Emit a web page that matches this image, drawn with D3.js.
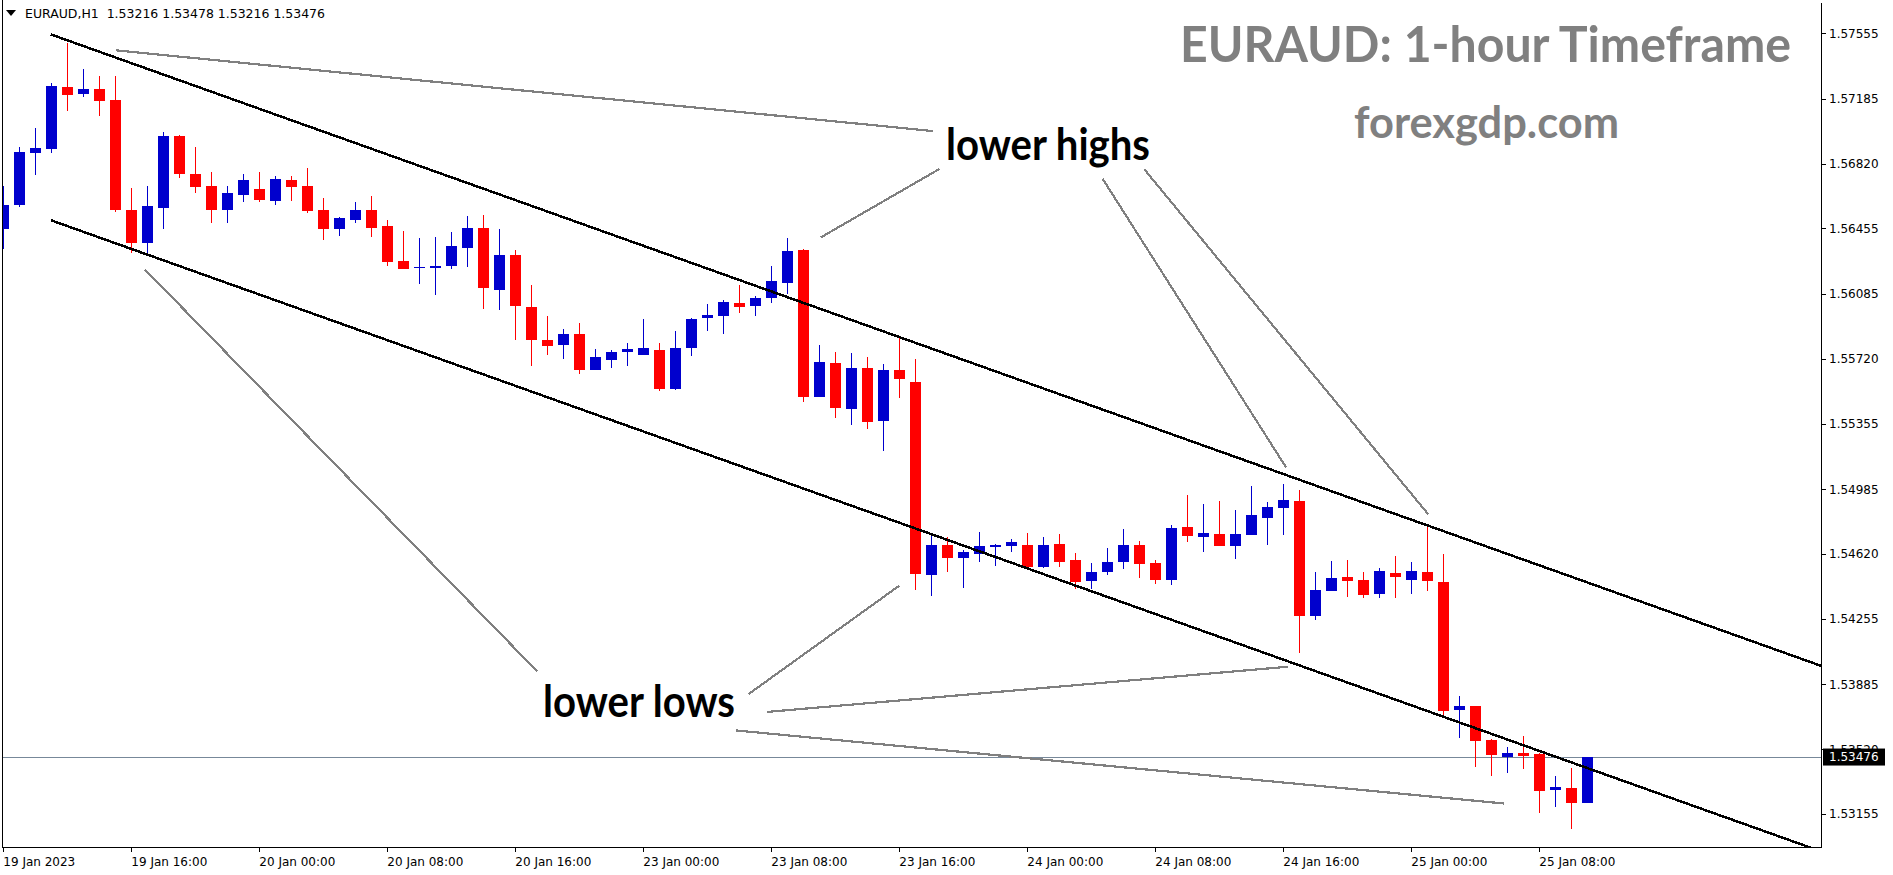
<!DOCTYPE html>
<html><head><meta charset="utf-8">
<script src="https://cdn.jsdelivr.net/npm/d3@7"></script>
<style>html,body{margin:0;padding:0;background:#fff;overflow:hidden}</style>
</head><body>
<svg id="chart" width="1893" height="875"></svg>
<script>
// ---------- DATA ----------
const opens = [1.56450,1.56589,1.56882,1.56905,1.57252,1.57215,1.57241,1.57179,1.56559,1.56375,
1.56572,1.56976,1.56762,1.56694,1.56561,1.56645,1.56678,1.56612,1.56728,1.56694,
1.56559,1.56454,1.56504,1.56559,1.56469,1.56272,1.56232,1.56232,1.56245,1.56347,
1.56458,1.56110,1.56306,1.56012,1.55826,1.55800,1.55860,1.55659,1.55715,1.55761,
1.55744,1.55770,1.55552,1.55783,1.55952,1.55963,1.56035,1.56020,1.56065,1.56149,
1.56334,1.55507,1.55697,1.55439,1.55669,1.55372,1.55657,1.55590,1.54504,1.54671,
1.54600,1.54622,1.54662,1.54667,1.54671,1.54549,1.54677,1.54587,1.54470,1.54521,
1.54577,1.54671,1.54570,1.54476,1.54773,1.54718,1.54733,1.54667,1.54729,1.54825,
1.54881,1.54919,1.54273,1.54414,1.54491,1.54474,1.54397,1.54513,1.54476,1.54519,
1.54463,1.53743,1.53764,1.53572,1.53478,1.53499,1.53495,1.53292,1.53302,1.53216];
const highs = [1.56694,1.56914,1.57021,1.57275,1.57500,1.57354,1.57314,1.57314,1.56683,1.56694,
1.56999,1.56980,1.56914,1.56773,1.56694,1.56762,1.56773,1.56751,1.56751,1.56796,
1.56627,1.56521,1.56604,1.56638,1.56503,1.56441,1.56400,1.56407,1.56435,1.56525,
1.56531,1.56452,1.56334,1.56136,1.55962,1.55888,1.55922,1.55776,1.55770,1.55810,
1.55945,1.55810,1.55877,1.55950,1.56029,1.56052,1.56136,1.56074,1.56244,1.56401,
1.56339,1.55798,1.55759,1.55753,1.55731,1.55691,1.55838,1.55719,1.54727,1.54716,
1.54643,1.54744,1.54677,1.54705,1.54739,1.54716,1.54733,1.54626,1.54571,1.54654,
1.54761,1.54694,1.54587,1.54784,1.54953,1.54902,1.54919,1.54868,1.55004,1.54913,
1.55015,1.54981,1.54519,1.54581,1.54587,1.54519,1.54541,1.54609,1.54575,1.54778,
1.54620,1.53820,1.53766,1.53578,1.53534,1.53595,1.53497,1.53369,1.53414,1.53478];
const lows = [1.56341,1.56578,1.56758,1.56882,1.57119,1.57198,1.57091,1.56550,1.56318,1.56318,
1.56454,1.56741,1.56657,1.56488,1.56488,1.56606,1.56606,1.56589,1.56612,1.56544,
1.56392,1.56414,1.56488,1.56409,1.56245,1.56225,1.56144,1.56080,1.56228,1.56240,
1.56003,1.55997,1.55828,1.55682,1.55744,1.55721,1.55637,1.55655,1.55670,1.55682,
1.55740,1.55541,1.55546,1.55738,1.55879,1.55862,1.55980,1.55963,1.56037,1.56087,
1.55479,1.55505,1.55389,1.55349,1.55327,1.55203,1.55501,1.54419,1.54385,1.54521,
1.54430,1.54577,1.54554,1.54633,1.54545,1.54543,1.54549,1.54425,1.54425,1.54504,
1.54538,1.54487,1.54453,1.54447,1.54690,1.54633,1.54665,1.54594,1.54727,1.54673,
1.54729,1.54064,1.54250,1.54410,1.54380,1.54374,1.54374,1.54374,1.54397,1.54414,
1.53703,1.53585,1.53422,1.53371,1.53388,1.53410,1.53162,1.53196,1.53072,1.53216];
const closes = [1.56587,1.56886,1.56909,1.57258,1.57209,1.57241,1.57175,1.56561,1.56375,1.56582,
1.56976,1.56764,1.56690,1.56561,1.56655,1.56728,1.56617,1.56734,1.56690,1.56555,
1.56454,1.56514,1.56559,1.56459,1.56268,1.56228,1.56240,1.56244,1.56356,1.56458,
1.56121,1.56306,1.56020,1.55828,1.55794,1.55860,1.55659,1.55731,1.55759,1.55776,
1.55781,1.55552,1.55781,1.55945,1.55967,1.56041,1.56014,1.56063,1.56159,1.56328,
1.55507,1.55702,1.55445,1.55669,1.55366,1.55657,1.55608,1.54509,1.54671,1.54600,
1.54632,1.54665,1.54671,1.54688,1.54549,1.54671,1.54577,1.54464,1.54519,1.54575,
1.54671,1.54566,1.54476,1.54767,1.54724,1.54739,1.54667,1.54733,1.54840,1.54885,
1.54925,1.54273,1.54417,1.54485,1.54470,1.54391,1.54525,1.54492,1.54525,1.54470,
1.53737,1.53764,1.53568,1.53489,1.53499,1.53484,1.53286,1.53307,1.53216,1.53476];

const xTickIndex  = [0,8,16,24,32,40,48,56,64,72,80,88,96];
const xTickLabels = ["19 Jan 2023","19 Jan 16:00","20 Jan 00:00","20 Jan 08:00","20 Jan 16:00",
  "23 Jan 00:00","23 Jan 08:00","23 Jan 16:00","24 Jan 00:00","24 Jan 08:00","24 Jan 16:00",
  "25 Jan 00:00","25 Jan 08:00"];
const yTickValues = [1.57555,1.57185,1.56820,1.56455,1.56085,1.55720,1.55355,1.54985,1.54620,1.54255,1.53885,1.53520,1.53155];
const yTickLabels = ["1.57555","1.57185","1.56820","1.56455","1.56085","1.55720","1.55355","1.54985","1.54620","1.54255","1.53885","1.53520","1.53155"];

const symbolHeader = "EURAUD,H1  1.53216 1.53478 1.53216 1.53476";
const lastPrice = 1.53476;

// channel trend lines (rays): [startIndex, startPrice, endIndex, endPrice]
const channelLines = [
  [2.96, 1.57549, 99, 1.54460],
  [2.96, 1.56502, 99, 1.53414]
];
// grey pointer lines
const pointerLines = [
  [7.04, 1.57459, 58.11, 1.57004],
  [51.1, 1.56405, 58.5, 1.56790],
  [68.7, 1.56736, 80.17, 1.55109],
  [71.3, 1.56790, 89.06, 1.54844],
  [8.84, 1.56225, 33.37, 1.53959],
  [46.58, 1.53831, 56.0, 1.54442],
  [47.71, 1.53730, 80.3, 1.53985],
  [45.79, 1.53626, 93.81, 1.53214]
];

// ---------- LAYOUT ----------
const W = 1893, H = 875;
const plot = {left: 2.5, right: 1821.5, top: 2.5, bottom: 847.5};
const x = d3.scaleLinear().domain([0, 99]).range([3.3, 1587.3]);
const y = d3.scaleLinear().domain([1.53155, 1.57555]).range([814, 33.3]);
const UP = "#0000CD", DOWN = "#FF0000";

const svg = d3.select("#chart");
svg.append("rect").attr("width", W).attr("height", H).attr("fill", "#fff");

const defs = svg.append("defs");
defs.append("clipPath").attr("id", "plotclip").append("rect")
  .attr("x", plot.left + 0.5).attr("y", plot.top).attr("width", plot.right - plot.left - 1).attr("height", plot.bottom - plot.top);

const gPlot = svg.append("g").attr("clip-path", "url(#plotclip)");

// last price line
gPlot.append("line")
  .attr("x1", plot.left).attr("x2", plot.right)
  .attr("y1", Math.round(y(lastPrice)) + 0.5).attr("y2", Math.round(y(lastPrice)) + 0.5)
  .attr("stroke", "#778899").attr("stroke-width", 1);

// candles
const bars = opens.map((o, i) => ({i, o, h: highs[i], l: lows[i], c: closes[i]}));
const gC = gPlot.append("g").attr("shape-rendering", "crispEdges");
gC.selectAll("line.wick").data(bars).join("line")
  .attr("class", "wick")
  .attr("x1", d => Math.floor(x(d.i)) + 0.5).attr("x2", d => Math.floor(x(d.i)) + 0.5)
  .attr("y1", d => y(d.h)).attr("y2", d => y(d.l))
  .attr("stroke", d => d.c >= d.o ? UP : DOWN).attr("stroke-width", 1);
gC.selectAll("rect.body").data(bars).join("rect")
  .attr("class", "body")
  .attr("x", d => Math.floor(x(d.i)) - 5)
  .attr("width", 11)
  .attr("y", d => y(Math.max(d.o, d.c)))
  .attr("height", d => Math.max(Math.abs(y(d.o) - y(d.c)), 1.6))
  .attr("fill", d => d.c >= d.o ? UP : DOWN);

// channel rays
const iEdge = x.invert(plot.right + 5);
channelLines.forEach(([i1, p1, i2, p2]) => {
  const slope = (p2 - p1) / (i2 - i1);
  const pEdge = p1 + slope * (iEdge - i1);
  gPlot.append("line")
    .attr("x1", x(i1)).attr("y1", y(p1))
    .attr("x2", x(iEdge)).attr("y2", y(pEdge))
    .attr("stroke", "#000").attr("stroke-width", 2.5)
    .attr("shape-rendering", "crispEdges");
});

// grey pointer lines
pointerLines.forEach(([i1, p1, i2, p2]) => {
  gPlot.append("line")
    .attr("x1", x(i1)).attr("y1", y(p1))
    .attr("x2", x(i2)).attr("y2", y(p2))
    .attr("stroke", "#808080").attr("stroke-width", 2.2)
    .attr("shape-rendering", "crispEdges");
});

// frame
const frame = svg.append("g").attr("stroke", "#000").attr("stroke-width", 1).attr("shape-rendering", "crispEdges");
frame.append("line").attr("x1", plot.left).attr("x2", plot.left).attr("y1", 0).attr("y2", plot.bottom);
frame.append("line").attr("x1", plot.right).attr("x2", plot.right).attr("y1", plot.top).attr("y2", plot.bottom);
frame.append("line").attr("x1", plot.left).attr("x2", plot.right).attr("y1", plot.bottom).attr("y2", plot.bottom);

// y axis
const yAxis = svg.append("g");
yTickValues.forEach((v, k) => {
  const yy = Math.round(y(v)) + 0.5;
  yAxis.append("line").attr("x1", plot.right).attr("x2", plot.right + 4)
    .attr("y1", yy).attr("y2", yy).attr("stroke", "#000").attr("shape-rendering", "crispEdges");
  yAxis.append("text").attr("x", 1829).attr("y", y(v)).attr("dy", "0.36em")
    .attr("font-family", "DejaVu Sans, Verdana, sans-serif").attr("font-size", 12)
    .attr("fill", "#000").text(yTickLabels[k]);
});
// last price label
yAxis.append("rect").attr("x", 1823).attr("y", y(lastPrice) - 8.5).attr("width", 62).attr("height", 17).attr("fill", "#000");
yAxis.append("text").attr("x", 1829).attr("y", y(lastPrice)).attr("dy", "0.36em")
  .attr("font-family", "DejaVu Sans, Verdana, sans-serif").attr("font-size", 12)
  .attr("fill", "#fff").text(d3.format(".5f")(lastPrice));

// x axis
const xAxis = svg.append("g");
xTickIndex.forEach((ix, k) => {
  const xx = Math.floor(x(ix)) + 0.5;
  xAxis.append("line").attr("x1", xx).attr("x2", xx).attr("y1", plot.bottom).attr("y2", plot.bottom + 4)
    .attr("stroke", "#000").attr("shape-rendering", "crispEdges");
  xAxis.append("text").attr("x", Math.max(x(ix), 3)).attr("y", 866)
    .attr("font-family", "DejaVu Sans, Verdana, sans-serif").attr("font-size", 12)
    .attr("fill", "#000").text(xTickLabels[k]);
});

// header
svg.append("path").attr("d", "M6,10 L16,10 L11,16 Z").attr("fill", "#000");
svg.append("text").attr("x", 25).attr("y", 18).attr("xml:space", "preserve")
  .attr("font-family", "DejaVu Sans, Verdana, sans-serif").attr("font-size", 12)
  .attr("textLength", 300).attr("lengthAdjust", "spacingAndGlyphs")
  .attr("fill", "#000").text(symbolHeader);

// titles & annotations
const bold = "Lato, 'Open Sans', sans-serif";
svg.append("text").attr("x", 1180).attr("y", 62).attr("font-family", bold).attr("font-weight", "bold")
  .attr("font-size", 50).attr("fill", "#808080").attr("textLength", 611).attr("lengthAdjust", "spacingAndGlyphs")
  .text("EURAUD: 1-hour Timeframe");
svg.append("text").attr("x", 1354).attr("y", 138).attr("font-family", bold).attr("font-weight", "bold")
  .attr("font-size", 44).attr("fill", "#808080").attr("textLength", 265).attr("lengthAdjust", "spacingAndGlyphs")
  .text("forexgdp.com");
svg.append("text").attr("x", 946).attr("y", 160).attr("font-family", bold).attr("font-weight", "bold")
  .attr("font-size", 43).attr("fill", "#000").attr("textLength", 204).attr("lengthAdjust", "spacingAndGlyphs")
  .text("lower highs");
svg.append("text").attr("x", 543).attr("y", 716.7).attr("font-family", bold).attr("font-weight", "bold")
  .attr("font-size", 43).attr("fill", "#000").attr("textLength", 192).attr("lengthAdjust", "spacingAndGlyphs")
  .text("lower lows");
</script>
</body></html>
